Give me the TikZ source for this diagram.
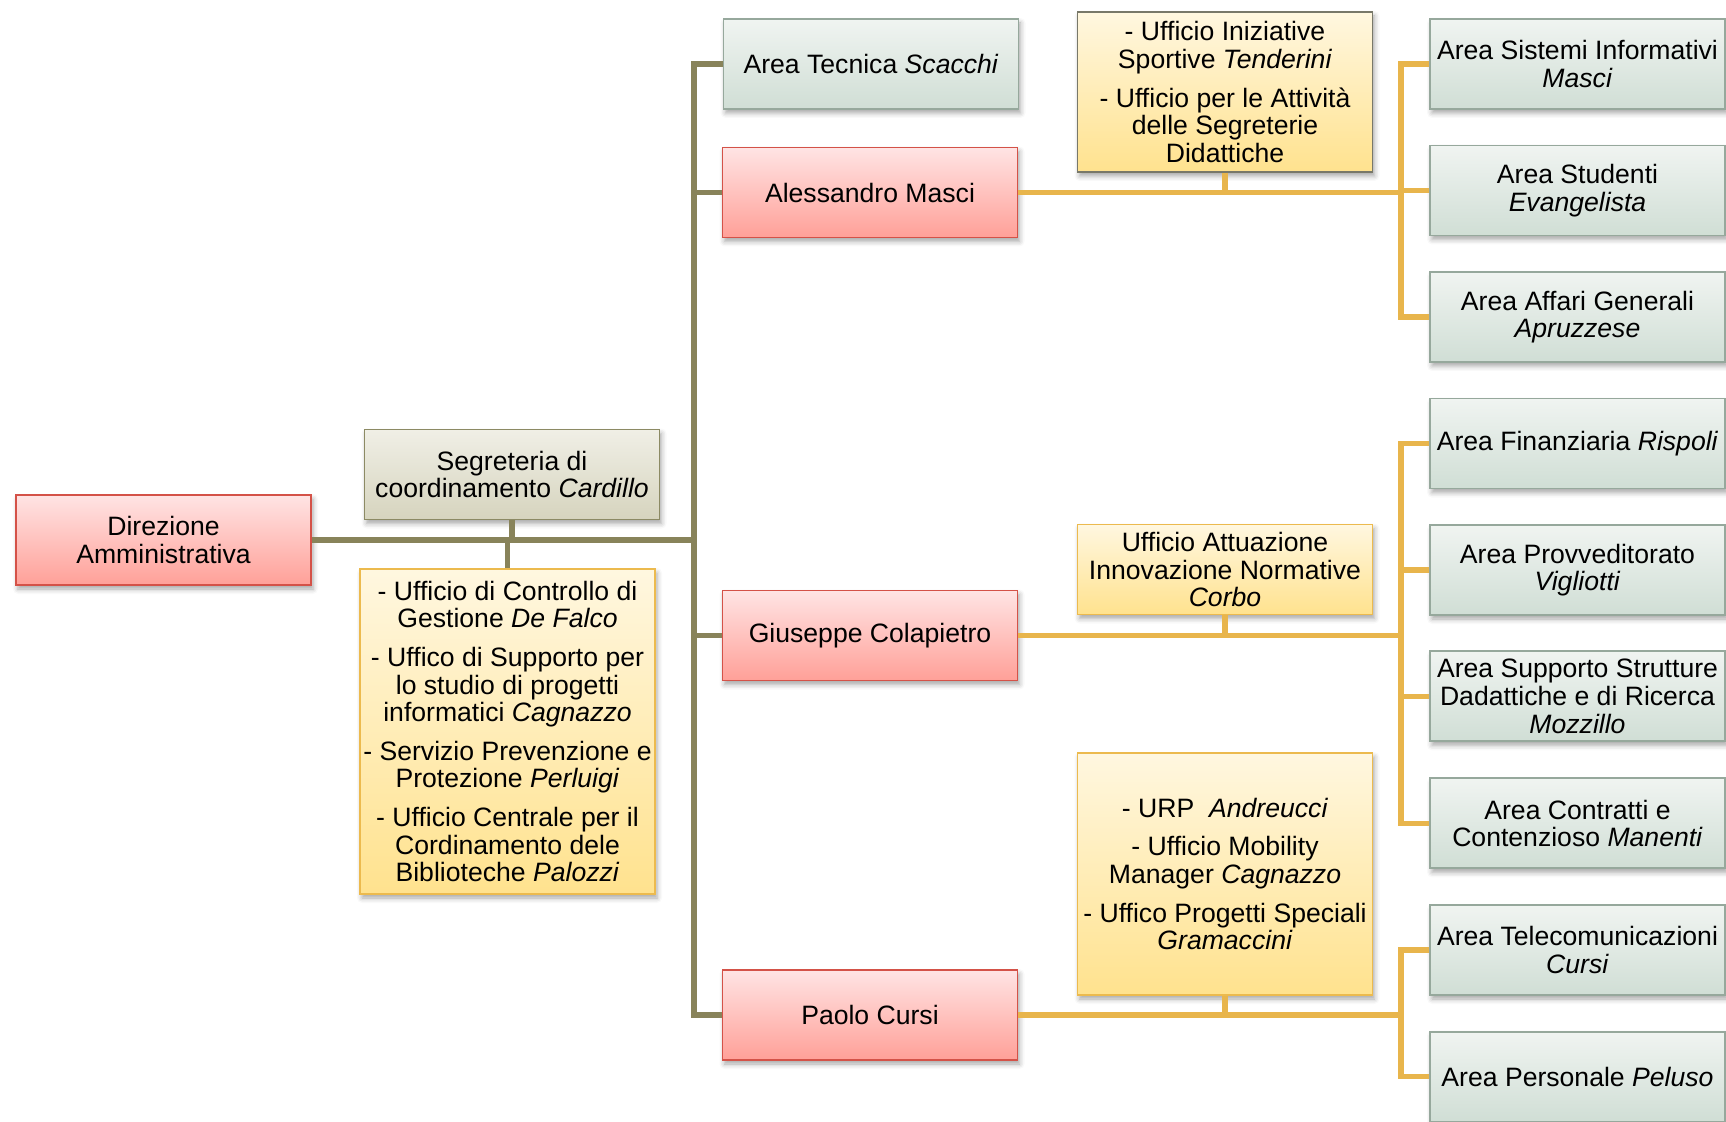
\documentclass[tikz,border=0pt]{standalone}
\usepackage{fontspec}
\setmainfont{Liberation Sans}
\usetikzlibrary{shadows.blur}
\definecolor{trunkc}{RGB}{136,131,90}
\definecolor{goldc}{RGB}{232,181,76}
\definecolor{redtop}{RGB}{255,228,228}
\definecolor{redbot}{RGB}{255,160,152}
\definecolor{redline}{RGB}{212,82,72}
\definecolor{grntop}{RGB}{240,244,241}
\definecolor{grnbot}{RGB}{208,222,213}
\definecolor{grnline}{RGB}{150,168,156}
\definecolor{segtop}{RGB}{240,239,230}
\definecolor{segbot}{RGB}{214,212,190}
\definecolor{segline}{RGB}{140,138,100}
\definecolor{yeltop}{RGB}{255,247,224}
\definecolor{yelbot}{RGB}{255,226,142}
\definecolor{yelline}{RGB}{236,186,78}
\definecolor{greyline}{RGB}{120,120,105}
\tikzset{
  basebox/.style={draw, line width=0.9pt, minimum width=147.5pt, minimum height=45pt,
    inner sep=1pt, align=center, font=\fontsize{13.3}{13.8}\selectfont,
    blur shadow={shadow xshift=1pt, shadow yshift=-2pt, shadow blur radius=2.5pt, shadow opacity=35}},
  redbox/.style={basebox, top color=redtop, bottom color=redbot, draw=redline},
  grnbox/.style={basebox, top color=grntop, bottom color=grnbot, draw=grnline},
  segbox/.style={basebox, top color=segtop, bottom color=segbot, draw=segline},
  yelbox/.style={basebox, top color=yeltop, bottom color=yelbot, draw=yelline},
  trunk/.style={draw=trunkc, line width=2.6pt},
  goldl/.style={draw=goldc, line width=2.7pt},
}
\begin{document}
\begin{tikzpicture}[x=0.5pt, y=-0.5pt]
\useasboundingbox (0,0) rectangle (1726,1122);
% left part
\node[redbox] (dir) at (163.5,540) {Direzione\\Amministrativa};
\node[segbox] (seg) at (512,474.5) {Segreteria di\\coordinamento \textit{Cardillo}};
\node[yelbox, minimum height=162.5pt] (lyel) at (507.5,731.5) {- Ufficio di Controllo di\\Gestione \textit{De Falco}\\[5.5pt]
 - Uffico di Supporto per\\lo studio di progetti\\informatici \textit{Cagnazzo}\\[5.5pt]
 - Servizio Prevenzione e\\Protezione \textit{Perluigi}\\[5.5pt]
 - Ufficio Centrale per il\\Cordinamento dele\\Biblioteche \textit{Palozzi}};
% middle column
\node[grnbox] (tec) at (871,64) {Area Tecnica \textit{Scacchi}};
\node[redbox] (mas) at (870,192.5) {Alessandro Masci};
\node[redbox] (col) at (870,635.5) {Giuseppe Colapietro};
\node[redbox] (cur) at (870,1015) {Paolo Cursi};
% yellow offices
\node[yelbox, draw=greyline, minimum height=80pt] (tyel) at (1225,92) {- Ufficio Iniziative\\Sportive \textit{Tenderini}\\[5.5pt]
 - Ufficio per le Attività\\delle Segreterie\\Didattiche};
\node[yelbox] (ayel) at (1225,569.5) {Ufficio Attuazione\\Innovazione Normative\\\textit{Corbo}};
\node[yelbox, minimum height=121pt] (uyel) at (1225,874) {- URP\ \ \textit{Andreucci}\\[5.5pt]
 - Ufficio Mobility\\Manager \textit{Cagnazzo}\\[5.5pt]
 - Uffico Progetti Speciali\\\textit{Gramaccini}};
% right column
\node[grnbox] (sis) at (1577.5,64) {Area Sistemi Informativi\\\textit{Masci}};
\node[grnbox] (stu) at (1577.5,190.5) {Area Studenti\\\textit{Evangelista}};
\node[grnbox] (aff) at (1577.5,317) {Area Affari Generali\\\textit{Apruzzese}};
\node[grnbox] (fin) at (1577.5,443.6) {Area Finanziaria \textit{Rispoli}};
\node[grnbox] (pro) at (1577.5,570) {Area Provveditorato\\\textit{Vigliotti}};
\node[grnbox] (sup) at (1577.5,696.3) {Area Supporto Strutture\\Dadattiche e di Ricerca\\\textit{Mozzillo}};
\node[grnbox] (con) at (1577.5,823.4) {Area Contratti e\\Contenzioso \textit{Manenti}};
\node[grnbox] (tel) at (1577.5,950) {Area Telecomunicazioni\\\textit{Cursi}};
\node[grnbox] (per) at (1577.5,1076.6) {Area Personale \textit{Peluso}};
% trunk connectors
\coordinate (t0) at (694,540);
\draw[trunk] (dir.east) -- (t0);
\draw[trunk] (tec.west) -| (t0);
\draw[trunk] (mas.west) -| (t0);
\draw[trunk] (col.west) -| (t0);
\draw[trunk] (cur.west) -| (t0);
\draw[trunk] (seg.south) -- (seg.south |- t0);
\draw[trunk] (lyel.north) -- (lyel.north |- t0);
% gold connectors
\coordinate (g1) at (1401,192.5);
\coordinate (g2) at (1401,635.5);
\coordinate (g3) at (1401,1015);
\draw[goldl] (mas.east) -- (g1);
\draw[goldl] (tyel.south) -- (tyel.south |- g1);
\draw[goldl] (sis.west) -| (g1);
\draw[goldl] (stu.west) -- (stu.west -| g1);
\draw[goldl] (aff.west) -| (g1);
\draw[goldl] (col.east) -- (g2);
\draw[goldl] (ayel.south) -- (ayel.south |- g2);
\draw[goldl] (fin.west) -| (g2);
\draw[goldl] (pro.west) -| (g2);
\draw[goldl] (sup.west) -| (g2);
\draw[goldl] (con.west) -| (g2);
\draw[goldl] (cur.east) -- (g3);
\draw[goldl] (uyel.south) -- (uyel.south |- g3);
\draw[goldl] (tel.west) -| (g3);
\draw[goldl] (per.west) -| (g3);
\end{tikzpicture}
\end{document}
